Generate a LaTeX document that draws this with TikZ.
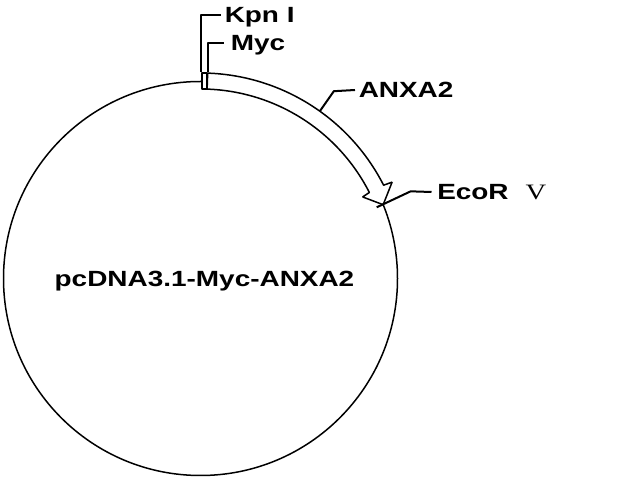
\documentclass[tikz,border=0pt]{standalone}
\usepackage{fontspec}
\setmainfont{Liberation Sans}
\newfontfamily\sitefont[FakeStretch=1.27]{Liberation Sans Bold}
\newfontfamily\numeralfont[FakeStretch=1.3]{Liberation Serif}
\usetikzlibrary{calc,positioning}

\tikzset{
  sitelabel/.style={font={\fontsize{22bp}{26bp}\selectfont\sitefont},
    inner sep=0pt, text height=15.5bp, text depth=0pt, anchor=west},
  leader/.style={line width=2bp},
}

\begin{document}
\begin{tikzpicture}[line join=bevel]
    \pgfsetlinewidth{1.5bp}
  \useasboundingbox (0bp,0bp) rectangle (640bp,480bp);
  %%
    \coordinate (center) at (200.5bp,201.5bp);
    % Node: plasmid
    \draw (center) circle (197bp);
    \node[sitelabel, anchor=center] (plasmid) at (204.5bp,201bp) {pcDNA3.1-Myc-ANXA2};
    % Edge: Myc -> EcoR V (ANXA2 insert)
    \draw[fill=white] ($(center)+(88:205.5bp)$) arc (88:27:205.5bp)
      -- ($(center)+(26.7:214.5bp)$) -- ($(center)+(22:197bp)$)
      -- ($(center)+(26.7:181.5bp)$) -- ($(center)+(27:189.5bp)$)
      arc (27:88:189.5bp) -- cycle;
    % Node: myc
    \node[draw, fill=white, minimum width=5bp, minimum height=16bp, inner sep=0pt]
      (myc) at (204.5bp,399bp) {};
  %
  \begin{scope}
    % Node: kpn
    \node[sitelabel] (kpn) at (224bp,465bp) {Kpn I};
    \draw[leader] (myc.north west) |- ([xshift=-3bp]kpn.west);
    % Node: myc label
    \node[sitelabel] (myclabel) at (230bp,437bp) {Myc};
    \draw[leader] (myc.north east) |- ([xshift=-6bp]myclabel.west);
  \end{scope}
  \begin{scope}
    % Node: anxa2
    \node[sitelabel] (anxa2) at (358bp,390bp) {ANXA2};
    \coordinate (anxa2 foot) at ($(center)+(54.5:205.5bp)$);
    \draw[leader] (anxa2 foot) -- ++(14bp,20bp) -- ([xshift=-3bp]anxa2.west);
  \end{scope}
  \begin{scope}
    % Node: ecor
    \node[sitelabel] (ecor) at (436.5bp,288bp) {EcoR\hspace{17bp}{\numeralfont V}};
    \coordinate (ecor foot) at ($(center)+(22:190bp)$);
    \draw[leader] (ecor foot) -- ++(34bp,16bp) -- ([xshift=-5bp]ecor.west);
  \end{scope}
  %
\end{tikzpicture}
\end{document}
